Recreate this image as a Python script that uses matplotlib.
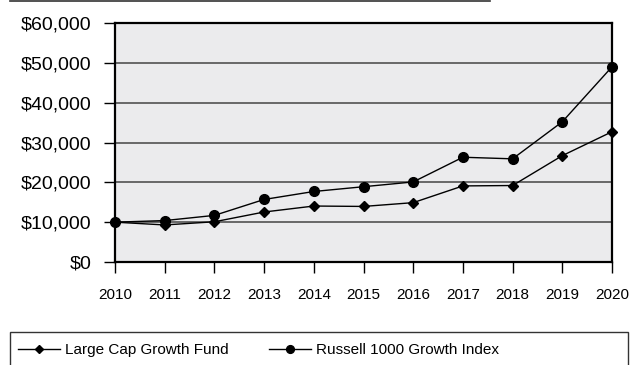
import matplotlib.pyplot as plt
from matplotlib.lines import Line2D
from matplotlib.patches import Rectangle
from matplotlib.ticker import FuncFormatter

plt.rcParams['font.family'] = ['Liberation Sans', 'DejaVu Sans']

# growth of $10,000
years = [2010, 2011, 2012, 2013, 2014, 2015, 2016, 2017, 2018, 2019, 2020]
fund = [10000, 9300, 10100, 12550, 14050, 13950, 14900, 19100, 19200, 26700, 32700]
russell = [10000, 10400, 11700, 15700, 17700, 18900, 20100, 26300, 25900, 35200, 49000]
fund_label = "Large Cap Growth Fund"
russell_label = "Russell 1000 Growth Index"

fig = plt.figure(figsize=(6.31, 3.65), dpi=100)
ax = fig.add_axes([115/631, 1 - 262/365, 497/631, 239/365])
ax.set_facecolor('#ebebed')

ax.plot(years, fund, color='black', lw=1, marker='D', ms=5.5, clip_on=False, zorder=3, label=fund_label)
ax.plot(years, russell, color='black', lw=1, marker='o', ms=7, clip_on=False, zorder=3, label=russell_label)

ax.set_xlim(2010, 2020)
ax.set_ylim(0, 60000)
ax.set_xticks(years)
ax.set_yticks(range(0, 60001, 10000))
ax.yaxis.set_major_formatter(FuncFormatter(lambda v, p: '${:,.0f}'.format(v)))
ax.grid(axis='y', color='#444444', lw=1.1)
ax.set_axisbelow(True)
for s in ax.spines.values():
    s.set_linewidth(1.6)
ax.tick_params(axis='y', direction='out', length=8, width=1, pad=9, labelsize=14)
ax.tick_params(axis='x', direction='out', length=8, width=1, pad=11, labelsize=11)

# top rule
fig.add_artist(Line2D([10/631, 490/631], [1 - 1/365, 1 - 1/365], color='#333333', lw=1.2))

# legend box running off the bottom
fig.add_artist(Rectangle((10/631, -0.05), 618/631, 0.05 + 1 - 332/365, fill=False,
                         edgecolor='#333333', lw=1))
fig.legend(loc='center left', bbox_to_anchor=(18/631, 1 - 350/365), ncol=2, frameon=False,
           fontsize=11, handlelength=2.75, handletextpad=0.35, columnspacing=2.6,
           borderaxespad=0, borderpad=0, markerscale=0.8)

fig.savefig('out.png', dpi=100)
